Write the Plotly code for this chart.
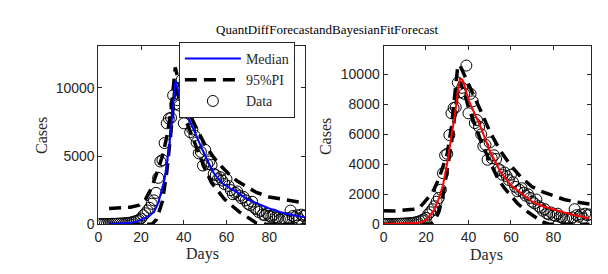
import plotly.graph_objects as go

# ---------------- data ----------------
days = list(range(0, 98))
cases = [5, 8, 12, 10, 20, 15, 25, 30, 28, 40, 45,
         55, 60, 80, 90, 120, 150, 200, 260, 330,
         420, 650, 800, 1000, 1200, 1500, 1750, 2300, 3400, 4600,
         4700, 5950, 7400, 7750, 7800, 9450, 8800, 9100, 8700, 10585,
         7400, 8700, 8200, 6750, 6950, 6500, 6000, 5200, 5300, 4300,
         5450, 4400, 4600, 4350, 3700, 3600, 3300, 3450, 3200, 2950,
         3300, 2800, 2500, 2200, 2300, 2400, 2100, 1900, 2000, 1750,
         1500, 1400, 1650, 1200, 1100, 900, 1000, 700, 650, 780,
         600, 550, 700, 500, 450, 350, 400, 380, 300, 450,
         1000, 600, 500, 650, 400, 700, 600, 650]

# left panel: QuantDiff forecast
med_L_days = [5, 10, 15, 18, 20, 22, 24, 26, 28, 30, 31, 32, 33, 34, 35, 36,
              38, 40, 43, 46, 50, 54, 58, 62, 65, 70, 75, 80, 85, 90, 97]
med_L = [20, 40, 100, 200, 320, 480, 650, 880, 1550, 2600, 3300, 4400, 5500, 7000, 8800, 10500,
         9400, 8500, 7500, 6400, 5000, 3750, 3000, 2600, 2330, 1800, 1450, 1150, 900, 700, 500]

up_L_days = [5, 10, 15, 19, 22, 25, 28, 30, 32, 34, 36,
             38, 40, 43, 46, 50, 54, 57, 61, 65, 70, 74, 80, 85, 90, 97]
up_L = [1150, 1200, 1250, 1400, 1800, 2700, 4000, 5000, 6400, 8300, 11500,
        10200, 9200, 8000, 7000, 5800, 4900, 4340, 3700, 3160, 2700, 2330, 2000, 1850, 1700, 1550]

lo_L_days = [5, 25, 27, 28, 30, 32, 34, 35, 36,
             38, 40, 43, 46, 50, 53, 56, 59, 63, 66, 70, 74, 76, 97]
lo_L = [0, 0, 300, 700, 1700, 3800, 6800, 8800, 10300,
        9000, 8000, 6800, 5600, 4000, 3040, 2400, 1850, 1300, 900, 500, 70, 0, 0]

# right panel: Bayesian fit forecast
med_R_days = [0, 5, 10, 15, 18, 20, 22, 24, 26, 28, 30, 32, 34, 35, 36, 37, 38,
              40, 43, 46, 50, 55, 60, 65, 70, 75, 80, 85, 90, 97]
med_R = [10, 20, 40, 80, 130, 300, 600, 1000, 1700, 2600, 4100, 5800, 7700, 8900, 9700, 9650, 9350,
         8300, 7400, 6400, 4900, 3500, 2600, 2050, 1500, 1200, 980, 780, 600, 390]

up_R_days = [0, 5, 10, 14, 17, 20, 23, 26, 28, 30, 32, 34, 35, 36,
             38, 40, 43, 46, 50, 55, 60, 65, 70, 75, 80, 85, 90, 97]
up_R = [900, 880, 950, 1000, 1100, 1600, 2100, 3000, 3800, 4700, 6500, 9200, 10600, 10600,
        10000, 9400, 8500, 7500, 6200, 4900, 3900, 3100, 2500, 2150, 1900, 1650, 1500, 1350]

lo_R_days = [0, 22, 24, 26, 28, 30, 32, 34, 35, 36,
             38, 40, 43, 46, 50, 54, 57, 60, 63, 67, 71, 75, 78, 97]
lo_R = [0, 0, 200, 800, 1900, 3500, 5400, 7800, 9000, 9500,
        8800, 7800, 6600, 5500, 4200, 3000, 2400, 1900, 1400, 900, 500, 150, 0, 0]

x_ticks = [0, 20, 40, 60, 80]
y_ticks_L = [0, 5000, 10000]
y_ticks_R = [0, 2000, 4000, 6000, 8000, 10000]

# ---------------- figure ----------------
dash_style = dict(color="black", width=3.5, dash="12px,7px")
fig = go.Figure()

for xa, ya, mcol, mx, my, ux, uy, lx, ly, show in [
    ("x", "y", "#0000ff", med_L_days, med_L, up_L_days, up_L, lo_L_days, lo_L, True),
    ("x2", "y2", "#ff0000", med_R_days, med_R, up_R_days, up_R, lo_R_days, lo_R, False),
]:
    fig.add_trace(go.Scatter(x=days, y=cases, mode="markers", name="Data",
                             marker=dict(symbol="circle-open", size=11, color="black",
                                         line=dict(width=1, color="black")),
                             xaxis=xa, yaxis=ya, showlegend=show, legendrank=3))
    fig.add_trace(go.Scatter(x=ux, y=uy, mode="lines", name="95%PI", line=dash_style,
                             xaxis=xa, yaxis=ya, showlegend=show, legendrank=2))
    fig.add_trace(go.Scatter(x=lx, y=ly, mode="lines", name="95%PI", line=dash_style,
                             xaxis=xa, yaxis=ya, showlegend=False))
    fig.add_trace(go.Scatter(x=mx, y=my, mode="lines", name="Median",
                             line=dict(color=mcol, width=2),
                             xaxis=xa, yaxis=ya, showlegend=show, legendrank=1))

W, H = 608, 274
tickfont = dict(family="Liberation Sans, Arial, sans-serif", size=14, color="#262626")
axis_common = dict(showline=True, linecolor="#262626", linewidth=1, mirror="ticks",
                   ticks="inside", ticklen=4, tickcolor="#262626", showgrid=False,
                   zeroline=False, tickfont=tickfont, tickformat="d")

ydom = [(274 - 222.7) / H, (274 - 39) / H]
fig.update_layout(
    width=W, height=H, margin=dict(l=0, r=0, t=0, b=0),
    paper_bgcolor="white", plot_bgcolor="white",
    xaxis=dict(domain=[87 / W, 295 / W], range=[0, 96.8], tickvals=x_ticks, anchor="y", **axis_common),
    yaxis=dict(domain=ydom, range=[0, 13080], tickvals=y_ticks_L, anchor="x", **axis_common),
    xaxis2=dict(domain=[374 / W, 583 / W], range=[0, 97.8], tickvals=x_ticks, anchor="y2", **axis_common),
    yaxis2=dict(domain=ydom, range=[0, 11900], tickvals=y_ticks_R, anchor="x2", **axis_common),
    legend=dict(x=168 / W, xanchor="left", y=(274 - 35) / H, yanchor="top",
                bgcolor="white", bordercolor="#262626", borderwidth=1,
                font=dict(family="Liberation Serif, Times New Roman, serif", size=14, color="#262626"),
                itemwidth=56, tracegroupgap=0),
    showlegend=True,
)

serif = "Liberation Serif, Times New Roman, serif"
ann = [
    dict(text="QuantDiffForecastandBayesianFitForecast", x=318 / W, y=(274 - 22) / H,
         font=dict(family=serif, size=13, color="black")),
    dict(text="Cases", x=29 / W, y=(274 - 131) / H, textangle=-90,
         font=dict(family=serif, size=16, color="#262626")),
    dict(text="Cases", x=315 / W, y=(274 - 132) / H, textangle=-90,
         font=dict(family=serif, size=16, color="#262626")),
    dict(text="Days", x=192 / W, y=(274 - 253) / H,
         font=dict(family=serif, size=16, color="#262626")),
    dict(text="Days", x=478 / W, y=(274 - 254) / H,
         font=dict(family=serif, size=16, color="#262626")),
]
for a in ann:
    fig.add_annotation(xref="paper", yref="paper", xanchor="center", yanchor="middle",
                       showarrow=False, **a)

fig.write_html("out.html")
